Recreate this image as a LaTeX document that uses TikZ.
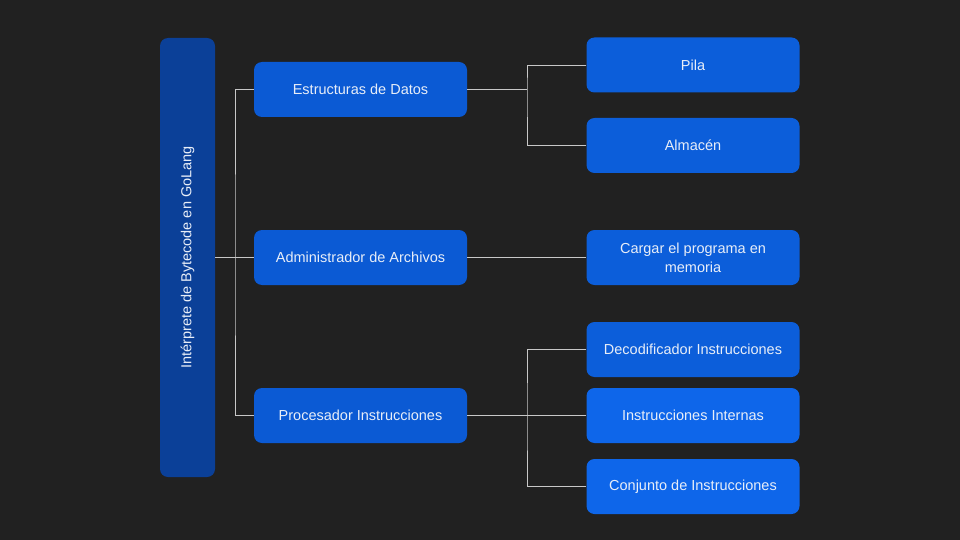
\documentclass[tikz,border=0pt]{standalone}
\usepackage{fontspec}
\setmainfont{Liberation Sans}
\definecolor{BgDark}{RGB}{33,33,33}
\definecolor{RootBlue}{RGB}{11,64,152}
\definecolor{MidBlue}{RGB}{11,90,212}
\definecolor{LeafBlue}{RGB}{12,94,218}
\definecolor{LeafBright}{RGB}{14,102,234}
\definecolor{LinkGray}{RGB}{200,200,200}
\definecolor{TextWhite}{RGB}{232,238,248}
\usepackage{tikz}

\begin{document}
\begin{tikzpicture}[x=1pt,y=-1pt,
      box/.style={fill=MidBlue,rounded corners=8pt,text=TextWhite,
                  minimum width=213pt,minimum height=55pt,align=center,
                  inner sep=0pt,font=\fontsize{14.5}{19}\selectfont},
      leaf/.style={box,fill=LeafBlue},
      link/.style={draw=LinkGray,line width=0.8pt}]
    \fill[BgDark] (0,0) rectangle (960,540);
    \useasboundingbox (0,0) rectangle (960,540);
    \node[box,fill=RootBlue,minimum width=439pt,minimum height=55pt,rotate=90] (root) at (187.5,257.5) {Intérprete de Bytecode en GoLang};
    \node[box] (datos) at (360.5,89.5) {Estructuras de Datos};
    \node[box] (admin) at (360.5,257.5) {Administrador de Archivos};
    \node[box] (proc) at (360.5,415.5) {Procesador Instrucciones};
    \node[leaf] (pila) at (693,65) {Pila};
    \node[leaf] (almacen) at (693,145.5) {Almacén};
    \node[leaf] (cargar) at (693,257.5) {Cargar el programa en\\memoria};
    \node[leaf] (deco) at (693,349.5) {Decodificador Instrucciones};
    \node[leaf,fill=LeafBright] (inter) at (693,415.5) {Instrucciones Internas};
    \node[leaf,fill=LeafBright] (conj) at (693,486.5) {Conjunto de Instrucciones};
    \coordinate (rootbus) at (235,257.5);
    \coordinate (datosbus) at (527,89.5);
    \coordinate (procbus) at (527,415.5);
    \draw[link] (root.south) -- (admin.west);
    \draw[link] (datos.west) -| (rootbus) |- (proc.west);
    \draw[link] (datos.east) -- (datosbus);
    \draw[link] (pila.west) -| (datosbus) |- (almacen.west);
    \draw[link] (admin.east) -- (cargar.west);
    \draw[link] (proc.east) -- (inter.west);
    \draw[link] (deco.west) -| (procbus) |- (conj.west);
  \end{tikzpicture}
\end{document}
